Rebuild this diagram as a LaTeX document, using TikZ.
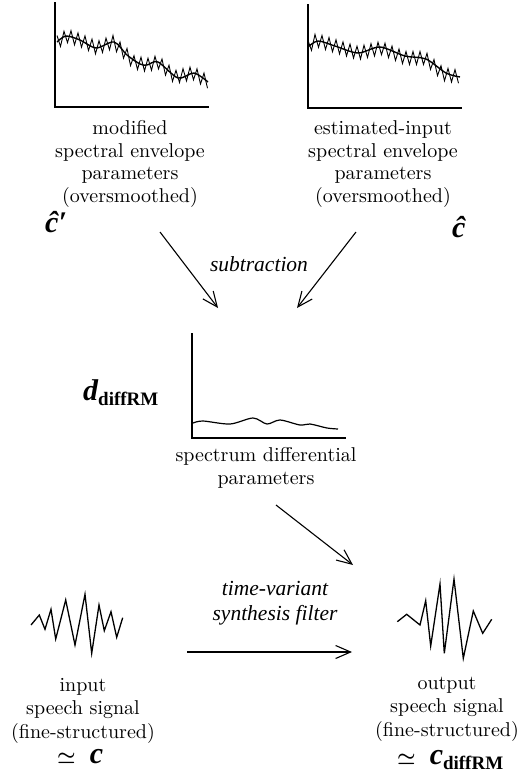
\documentclass[tikz,border=0pt]{standalone}
\usepackage{fontspec}
\setmainfont{lmroman10-regular.otf}
\newfontfamily\tms{Liberation Serif}
\usetikzlibrary{arrows.meta}
\tikzset{
  lbl/.style={align=center, inner sep=0pt, anchor=north, font=\fontsize{20}{22.8}\selectfont},
  lblb/.style={align=center, inner sep=0pt, anchor=north, font=\fontsize{20}{23.5}\selectfont},
  itl/.style={align=center, inner sep=0pt, font=\tms\itshape\fontsize{21.5}{25}\selectfont},
  sym/.style={inner sep=0pt, anchor=base west, font=\tms\bfseries\itshape\fontsize{30}{30}\selectfont},
  axis/.style={line width=1.5pt},
  env/.style={line width=1.4pt, line join=round},
  fine/.style={line width=0.9pt, line join=miter},
  wave/.style={line width=1.3pt, line join=miter},
  arr/.style={line width=1.1pt, -{Straight Barb[length=15pt,width=13pt]}}
}
\newcommand{\sub}[1]{\raisebox{-5pt}{\fontsize{19}{19}\selectfont\upshape #1}}
\newcommand{\sime}{{\normalfont\fontsize{20}{20}\selectfont\boldmath$\simeq$}}
\begin{document}
\begin{tikzpicture}[x=1pt,y={(0pt,-1pt)}]
\useasboundingbox (0,0) rectangle (518,780);

% ---------- top-left graph ----------
\draw[axis] (55,2) -- (55,107) -- (209,107);
\draw[fine] (57,35.5) foreach[count=\i] \yb in {39.9,37.8,36.15,37.2,38.3,39.4,40.7,42.4,44.0,45.6,47.3,47.25,45.9,44.6,43.3,42,45.25,48.5,51.75,55,59.1,62.2,63.0,63.7,64.5,64.7,63.8,62.8,62.4,65.5,68.6,71.7,74.8,76.8,76.0,75.2,74.4,73.7,73.3,75.4,77.5,79.6,81.7} { -- ({57+3.5*\i},{\yb-6.5*cos(180*\i)}) };
\draw[env] plot[smooth] coordinates {(57,42) (66,36) (80,40) (96,48) (114,42) (127,55) (140,64) (147,65) (158,62) (178,78) (194,73) (208,82)};
\node[lbl] (modlab) at (130,119) {\vphantom{(}modified\\spectral envelope\\parameters\\(oversmoothed)};
\node[sym] (chatp) at (45,232) {\^c′};

% ---------- top-right graph ----------
\draw[axis] (308,4) -- (308,108) -- (462,108);
\draw[fine] (308,40.5) foreach[count=\i] \yb in {43.9,40.9,40.8,41.9,43.0,44.1,45.2,46.3,47.4,48.4,49.5,50.6,51.6,52.7,52.5,51.7,50.9,50.2,49.4,48.7,48.2,49.7,51.1,52.6,54.0,55.5,57.0,58,58,58,58,58,58,59.8,62.9,66.0,69.1,72.2,74.3,74.9,75.5,76.1,76.7} { -- ({308+3.5*\i},{\yb-6.5*cos(180*\i)}) };
\draw[env] plot[smooth] coordinates {(308,47) (318,41) (335,46) (358,53) (380,47) (405,56) (426,59) (446,73) (460,77)};
\node[lbl] (estlab) at (383,119) {\vphantom{(}estimated-input\\spectral envelope\\parameters\\(oversmoothed)};
\node[sym] (chat) at (452,237) {\^c};

% ---------- subtraction ----------
\coordinate (s1) at (160,232);
\coordinate (s1e) at (218,308);
\coordinate (s2) at (356,232);
\coordinate (s2e) at (297,308);
\draw[arr] (s1) -- (s1e);
\draw[arr] (s2) -- (s2e);
\node[itl, anchor=base] (sublab) at (259,271) {subtraction};

% ---------- middle graph ----------
\draw[axis] (192,333) -- (192,438) -- (346,438);
\draw[line width=1.2pt] plot[smooth] coordinates {(193,423) (203,421) (230,424) (253,418) (267,424) (280,420) (300,425) (310,424) (327,428) (338,429)};
\node[sym] (dlab) at (83,400) {d\sub{diffRM}};
\node[lbl] (difflab) at (266,446) {\vphantom{(}spectrum differential\\parameters};

% ---------- filter arrows ----------
\coordinate (d1) at (276,505);
\coordinate (d1e) at (353,565);
\draw[arr] (d1) -- (d1e);
\node[itl, anchor=north] (filtlab) at (275,580) {\vphantom{(}time-variant\\synthesis filter};
\coordinate (h1) at (187,652);
\coordinate (h1e) at (352,652);
\draw[arr] (h1) -- (h1e);

% ---------- input waveform ----------
\draw[wave] (31,625) -- (39.3,615) -- (45,629.3) -- (51,609.3) -- (55.7,639) -- (65.7,600) -- (75,645) -- (85,594.3) -- (91.7,653.3) -- (99,605) -- (104.3,630.7) -- (111,611.7) -- (116.7,637.3) -- (122.7,617.7);
\node[lblb] (inlab) at (83,676) {\vphantom{(}input\\speech signal\\(fine-structured)};
\node[sym] (cin) at (57,763) {\sime\hspace{14pt}c};

% ---------- output waveform ----------
\draw[wave] (397.3,621.7) -- (406.7,614.3) -- (420,625) -- (425.7,600.7) -- (430.7,646) -- (440,584) -- (444.3,653.3) -- (454,579) -- (463.3,658.3) -- (473.3,611) -- (482.7,633.3) -- (491.7,619.3);
\node[lblb] (outlab) at (447,674) {\vphantom{(}output\\speech signal\\(fine-structured)};
\node[sym] (cout) at (397,764) {\sime\hspace{14pt}c\sub{diffRM}};
\end{tikzpicture}
\end{document}
